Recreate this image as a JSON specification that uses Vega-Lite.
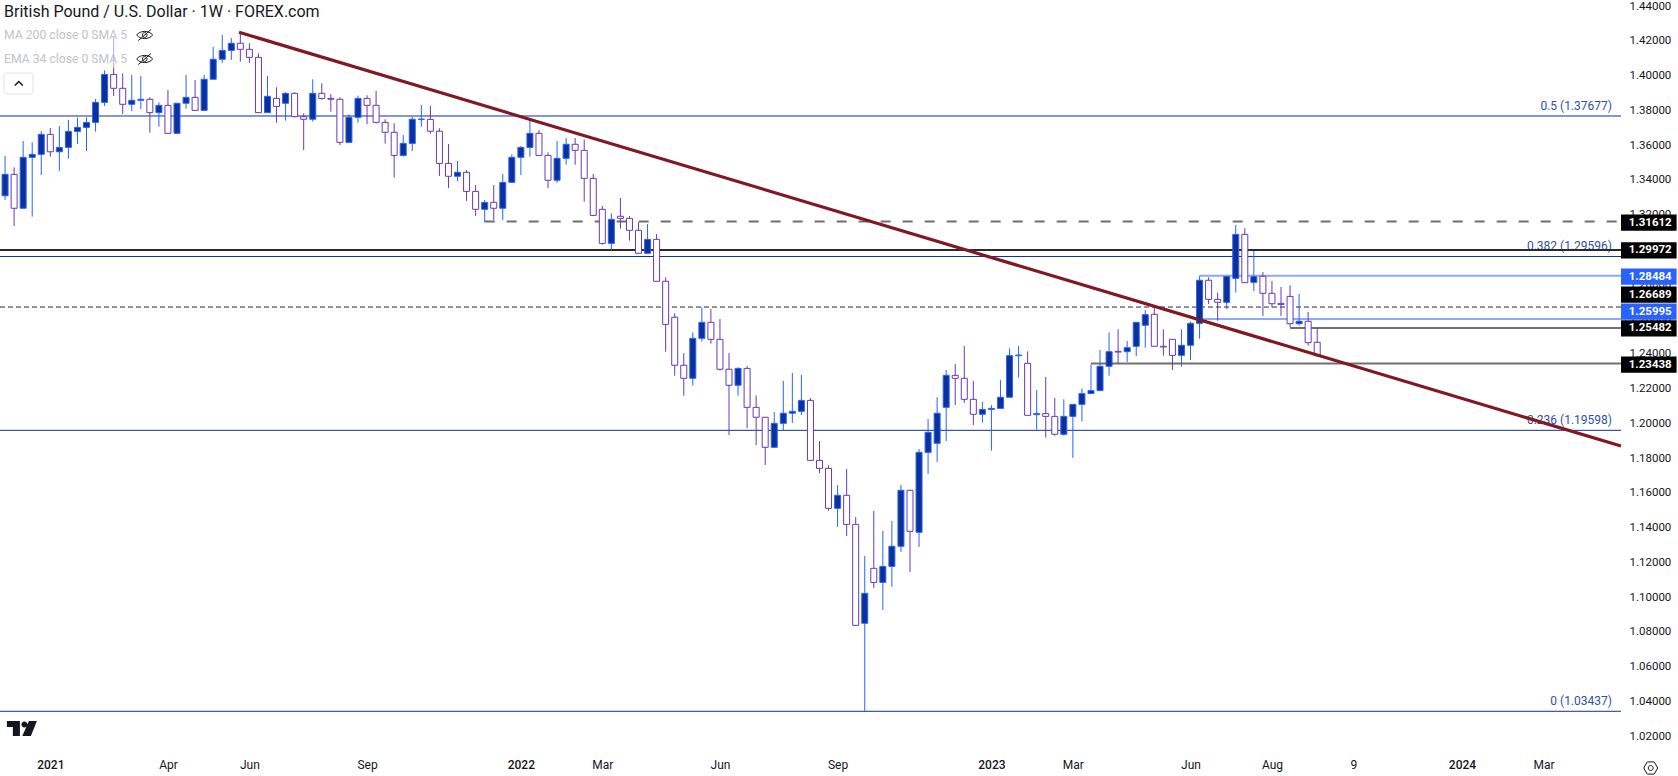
{"$schema":"https://vega.github.io/schema/vega-lite/v6.json","width":1621,"height":742,"autosize":{"type":"none"},"padding":{"left":0,"top":0,"right":57,"bottom":34},"background":"#ffffff","config":{"view":{"stroke":null},"font":"Roboto"},
"datasets":{"candles":[
{"d":"2020-11-30","o":1.3309,"h":1.3538,"l":1.3285,"c":1.3432},{"d":"2020-12-07","o":1.3432,"h":1.3472,"l":1.3135,"c":1.3237},{"d":"2020-12-14","o":1.3237,"h":1.3624,"l":1.3237,"c":1.353},{"d":"2020-12-21","o":1.353,"h":1.3616,"l":1.3189,"c":1.3547},{"d":"2020-12-28","o":1.3547,"h":1.3681,"l":1.3428,"c":1.3662},
{"d":"2021-01-04","o":1.3662,"h":1.3699,"l":1.3534,"c":1.3562},{"d":"2021-01-11","o":1.3562,"h":1.371,"l":1.3451,"c":1.3587},{"d":"2021-01-18","o":1.3587,"h":1.3745,"l":1.3522,"c":1.3679},{"d":"2021-01-25","o":1.3679,"h":1.3758,"l":1.3607,"c":1.3702},{"d":"2021-02-01","o":1.3702,"h":1.376,"l":1.3566,"c":1.3731},{"d":"2021-02-08","o":1.3731,"h":1.3865,"l":1.3678,"c":1.3846},{"d":"2021-02-15","o":1.3846,"h":1.403,"l":1.3825,"c":1.4007},{"d":"2021-02-22","o":1.4007,"h":1.4228,"l":1.3883,"c":1.3927},{"d":"2021-03-01","o":1.3927,"h":1.4013,"l":1.3779,"c":1.3835},{"d":"2021-03-08","o":1.3835,"h":1.4004,"l":1.3796,"c":1.3858},{"d":"2021-03-15","o":1.3858,"h":1.3998,"l":1.3808,"c":1.3864},{"d":"2021-03-22","o":1.3864,"h":1.3875,"l":1.3672,"c":1.3787},{"d":"2021-03-29","o":1.3787,"h":1.3846,"l":1.3706,"c":1.3829},{"d":"2021-04-05","o":1.3829,"h":1.3917,"l":1.3668,"c":1.3668},{"d":"2021-04-12","o":1.3668,"h":1.3841,"l":1.3668,"c":1.3841},{"d":"2021-04-19","o":1.3841,"h":1.4004,"l":1.381,"c":1.3875},{"d":"2021-04-26","o":1.3875,"h":1.3975,"l":1.38,"c":1.38},{"d":"2021-05-03","o":1.38,"h":1.4004,"l":1.38,"c":1.3979},{"d":"2021-05-10","o":1.3979,"h":1.4165,"l":1.3979,"c":1.4094},{"d":"2021-05-17","o":1.4094,"h":1.4234,"l":1.4074,"c":1.4145},{"d":"2021-05-24","o":1.4145,"h":1.4216,"l":1.409,"c":1.4186},{"d":"2021-05-31","o":1.4186,"h":1.4249,"l":1.408,"c":1.4151},{"d":"2021-06-07","o":1.4151,"h":1.4186,"l":1.4074,"c":1.4105},{"d":"2021-06-14","o":1.4105,"h":1.4128,"l":1.3787,"c":1.3787},{"d":"2021-06-21","o":1.3787,"h":1.3998,"l":1.3787,"c":1.3881},{"d":"2021-06-28","o":1.3869,"h":1.3933,"l":1.3729,"c":1.3823},{"d":"2021-07-05","o":1.3841,"h":1.3904,"l":1.3741,"c":1.3898},{"d":"2021-07-12","o":1.3898,"h":1.3904,"l":1.376,"c":1.3764},{"d":"2021-07-19","o":1.3764,"h":1.3783,"l":1.3572,"c":1.3749},{"d":"2021-07-26","o":1.3749,"h":1.3979,"l":1.3735,"c":1.3898},{"d":"2021-08-02","o":1.3898,"h":1.3956,"l":1.3862,"c":1.3869},{"d":"2021-08-09","o":1.3869,"h":1.3894,"l":1.3793,"c":1.3864},{"d":"2021-08-16","o":1.3864,"h":1.3875,"l":1.3601,"c":1.3616},{"d":"2021-08-23","o":1.3616,"h":1.3777,"l":1.3616,"c":1.376},{"d":"2021-08-30","o":1.376,"h":1.3885,"l":1.3729,"c":1.3869},{"d":"2021-09-06","o":1.3869,"h":1.3887,"l":1.3722,"c":1.3829},{"d":"2021-09-13","o":1.3829,"h":1.3912,"l":1.3725,"c":1.3731},{"d":"2021-09-20","o":1.3731,"h":1.3749,"l":1.3609,"c":1.3674},{"d":"2021-09-27","o":1.3674,"h":1.3725,"l":1.3413,"c":1.3541},{"d":"2021-10-04","o":1.3541,"h":1.3658,"l":1.3534,"c":1.361},{"d":"2021-10-11","o":1.361,"h":1.3764,"l":1.3566,"c":1.3749},
{"d":"2021-10-18","o":1.3747,"h":1.3831,"l":1.3706,"c":1.375},{"d":"2021-10-25","o":1.3748,"h":1.3825,"l":1.3666,"c":1.368},{"d":"2021-11-01","o":1.368,"h":1.3697,"l":1.3423,"c":1.3495},{"d":"2021-11-08","o":1.3495,"h":1.3607,"l":1.3353,"c":1.3421},{"d":"2021-11-15","o":1.3421,"h":1.3509,"l":1.3394,"c":1.3444},{"d":"2021-11-22","o":1.3444,"h":1.3457,"l":1.3279,"c":1.3334},{"d":"2021-11-29","o":1.3334,"h":1.3371,"l":1.3192,"c":1.3231},{"d":"2021-12-06","o":1.3231,"h":1.3285,"l":1.3158,"c":1.3271},{"d":"2021-12-13","o":1.3271,"h":1.3371,"l":1.3169,"c":1.3237},{"d":"2021-12-20","o":1.3237,"h":1.3434,"l":1.3169,"c":1.3386},{"d":"2021-12-27","o":1.3386,"h":1.3547,"l":1.3386,"c":1.353},
{"d":"2022-01-03","o":1.353,"h":1.3595,"l":1.3428,"c":1.3587},{"d":"2022-01-10","o":1.3587,"h":1.3748,"l":1.3534,"c":1.3668},{"d":"2022-01-17","o":1.3668,"h":1.3687,"l":1.3541,"c":1.3541},{"d":"2022-01-24","o":1.3541,"h":1.3559,"l":1.3353,"c":1.3398},{"d":"2022-01-31","o":1.3398,"h":1.3624,"l":1.3384,"c":1.3524},{"d":"2022-02-07","o":1.3524,"h":1.3641,"l":1.3488,"c":1.3605},{"d":"2022-02-14","o":1.3605,"h":1.3641,"l":1.3488,"c":1.357},{"d":"2022-02-21","o":1.357,"h":1.3633,"l":1.3275,"c":1.3409},{"d":"2022-02-28","o":1.3409,"h":1.3434,"l":1.3194,"c":1.3196},{"d":"2022-03-07","o":1.3231,"h":1.325,"l":1.3028,"c":1.3035},{"d":"2022-03-14","o":1.3035,"h":1.3208,"l":1.2997,"c":1.3173},{"d":"2022-03-21","o":1.3191,"h":1.3296,"l":1.312,"c":1.3179},{"d":"2022-03-28","o":1.3179,"h":1.3192,"l":1.3051,"c":1.311},{"d":"2022-04-04","o":1.311,"h":1.3158,"l":1.2978,"c":1.2978},{"d":"2022-04-11","o":1.2978,"h":1.3146,"l":1.2978,"c":1.3058},{"d":"2022-04-18","o":1.3058,"h":1.3089,"l":1.2817,"c":1.2817},{"d":"2022-04-25","o":1.2817,"h":1.284,"l":1.2412,"c":1.2569},{"d":"2022-05-02","o":1.261,"h":1.2633,"l":1.2274,"c":1.2334},{"d":"2022-05-09","o":1.2334,"h":1.2404,"l":1.2159,"c":1.2259},{"d":"2022-05-16","o":1.2259,"h":1.2523,"l":1.2217,"c":1.2489},{"d":"2022-05-23","o":1.2489,"h":1.2667,"l":1.247,"c":1.2581},{"d":"2022-05-30","o":1.2581,"h":1.2658,"l":1.2458,"c":1.2483},{"d":"2022-06-06","o":1.2483,"h":1.26,"l":1.2303,"c":1.2311},{"d":"2022-06-13","o":1.2311,"h":1.2404,"l":1.1933,"c":1.2219},{"d":"2022-06-20","o":1.2219,"h":1.2322,"l":1.2159,"c":1.2316},{"d":"2022-06-27","o":1.2316,"h":1.233,"l":1.1973,"c":1.2092},{"d":"2022-07-04","o":1.2092,"h":1.2161,"l":1.1875,"c":1.2035},{"d":"2022-07-11","o":1.2035,"h":1.2035,"l":1.176,"c":1.1862},{"d":"2022-07-18","o":1.1862,"h":1.2065,"l":1.1862,"c":1.2},{"d":"2022-07-25","o":1.2,"h":1.2244,"l":1.1962,"c":1.2058},{"d":"2022-08-01","o":1.2058,"h":1.229,"l":1.2002,"c":1.2069},{"d":"2022-08-08","o":1.2069,"h":1.2278,"l":1.2048,"c":1.2132},{"d":"2022-08-15","o":1.2132,"h":1.2146,"l":1.1787,"c":1.1787},{"d":"2022-08-22","o":1.1787,"h":1.1898,"l":1.1714,"c":1.1741},{"d":"2022-08-29","o":1.1741,"h":1.1758,"l":1.1498,"c":1.1511},{"d":"2022-09-05","o":1.1511,"h":1.1645,"l":1.1404,"c":1.1586},{"d":"2022-09-12","o":1.1586,"h":1.1737,"l":1.1352,"c":1.1419},{"d":"2022-09-19","o":1.1419,"h":1.1461,"l":1.0838,"c":1.0838},{"d":"2022-09-26","o":1.085,"h":1.1237,"l":1.0344,"c":1.1022},{"d":"2022-10-03","o":1.1166,"h":1.1496,"l":1.1053,"c":1.1085},{"d":"2022-10-10","o":1.1085,"h":1.1381,"l":1.0926,"c":1.1177},{"d":"2022-10-17","o":1.1177,"h":1.1438,"l":1.1059,"c":1.1293},{"d":"2022-10-24","o":1.1293,"h":1.1645,"l":1.126,"c":1.1615},{"d":"2022-10-31","o":1.1615,"h":1.1615,"l":1.1145,"c":1.1379},{"d":"2022-11-07","o":1.1373,"h":1.1852,"l":1.1289,"c":1.1833},{"d":"2022-11-14","o":1.1833,"h":1.2025,"l":1.1709,"c":1.1948},{"d":"2022-11-21","o":1.1885,"h":1.2151,"l":1.1778,"c":1.2058},{"d":"2022-11-28","o":1.2092,"h":1.2307,"l":1.1898,"c":1.2276},{"d":"2022-12-05","o":1.2276,"h":1.2341,"l":1.2105,"c":1.2259},{"d":"2022-12-12","o":1.2259,"h":1.2445,"l":1.2117,"c":1.2138},{"d":"2022-12-19","o":1.2138,"h":1.2244,"l":1.199,"c":1.2052},{"d":"2022-12-26","o":1.2052,"h":1.2123,"l":1.2004,"c":1.208},
{"d":"2023-01-02","o":1.208,"h":1.2105,"l":1.1843,"c":1.2086},{"d":"2023-01-09","o":1.2086,"h":1.2249,"l":1.2086,"c":1.215},{"d":"2023-01-16","o":1.215,"h":1.2431,"l":1.215,"c":1.2389},{"d":"2023-01-23","o":1.2389,"h":1.2445,"l":1.2263,"c":1.2393},{"d":"2023-01-30","o":1.2345,"h":1.2414,"l":1.2046,"c":1.2046},{"d":"2023-02-06","o":1.205,"h":1.2192,"l":1.1964,"c":1.2056},{"d":"2023-02-13","o":1.2056,"h":1.2267,"l":1.1918,"c":1.204},{"d":"2023-02-20","o":1.204,"h":1.2146,"l":1.1929,"c":1.1937},{"d":"2023-02-27","o":1.1937,"h":1.2138,"l":1.1929,"c":1.204},{"d":"2023-03-06","o":1.204,"h":1.2109,"l":1.1802,"c":1.2109},{"d":"2023-03-13","o":1.2109,"h":1.2201,"l":1.201,"c":1.2171},{"d":"2023-03-20","o":1.2171,"h":1.2339,"l":1.2171,"c":1.2188},{"d":"2023-03-27","o":1.2188,"h":1.2422,"l":1.2188,"c":1.2328},{"d":"2023-04-03","o":1.2328,"h":1.2523,"l":1.2274,"c":1.2412},{"d":"2023-04-10","o":1.2414,"h":1.2541,"l":1.2345,"c":1.241},{"d":"2023-04-17","o":1.2412,"h":1.2474,"l":1.2353,"c":1.2435},{"d":"2023-04-24","o":1.2443,"h":1.2581,"l":1.2387,"c":1.2581},{"d":"2023-05-01","o":1.2564,"h":1.2652,"l":1.2435,"c":1.2625},{"d":"2023-05-08","o":1.2627,"h":1.2679,"l":1.2443,"c":1.2443},{"d":"2023-05-15","o":1.2443,"h":1.2541,"l":1.2389,"c":1.2439},{"d":"2023-05-22","o":1.2483,"h":1.2483,"l":1.2307,"c":1.2391},{"d":"2023-05-29","o":1.2391,"h":1.2541,"l":1.2326,"c":1.2449},{"d":"2023-06-05","o":1.2449,"h":1.2585,"l":1.2364,"c":1.2575},{"d":"2023-06-12","o":1.2575,"h":1.2847,"l":1.2487,"c":1.2823},{"d":"2023-06-19","o":1.2823,"h":1.284,"l":1.2686,"c":1.2713},{"d":"2023-06-26","o":1.2713,"h":1.2753,"l":1.259,"c":1.2696},{"d":"2023-07-03","o":1.2696,"h":1.2847,"l":1.2658,"c":1.2845},{"d":"2023-07-10","o":1.2834,"h":1.3141,"l":1.2752,"c":1.3087},{"d":"2023-07-17","o":1.3087,"h":1.3122,"l":1.2809,"c":1.2809},{"d":"2023-07-24","o":1.2811,"h":1.2991,"l":1.2761,"c":1.2844},{"d":"2023-07-31","o":1.2846,"h":1.287,"l":1.2617,"c":1.2748},{"d":"2023-08-07","o":1.2748,"h":1.2819,"l":1.2667,"c":1.2688},{"d":"2023-08-14","o":1.269,"h":1.2784,"l":1.2617,"c":1.2683},{"d":"2023-08-21","o":1.273,"h":1.2794,"l":1.2552,"c":1.2573},{"d":"2023-08-28","o":1.2573,"h":1.2744,"l":1.2562,"c":1.2587},{"d":"2023-09-04","o":1.2587,"h":1.264,"l":1.2447,"c":1.2464},{"d":"2023-09-11","o":1.2466,"h":1.2552,"l":1.2382,"c":1.2389}
]},
"encoding":{"x":{"field":"d","type":"temporal","title":null,"scale":{"type":"utc","nice":false,"padding":0,"domain":["2020-11-26T02:00:00Z","2024-05-03T00:00:00Z"]},
"axis":{"orient":"bottom","grid":false,"ticks":false,"domain":false,"labelFont":"Roboto","labelFontSize":12,"labelColor":"#131722","labelPadding":17,"labelOverlap":false,"labelFlush":false,"labelBound":false,"labelFontWeight":{"condition":{"test":"utcmonth(datum.value)==0","value":500},"value":400},
"values":["2021-01-04","2021-04-05","2021-06-07","2021-09-06","2022-01-03","2022-03-07","2022-06-06","2022-09-05","2023-01-02","2023-03-06","2023-06-05","2023-08-07","2023-10-09","2024-01-01","2024-03-04"],
"labelExpr":"utcFormat(datum.value,'%m-%d')=='10-09' ? '9' : (utcmonth(datum.value)==0 ? utcFormat(datum.value,'%Y') : utcFormat(datum.value,'%b'))"}},
"y":{"field":"p","type":"quantitative","title":null,"scale":{"domain":[1.01671,1.44349],"nice":false,"zero":false},
"axis":{"orient":"right","grid":false,"ticks":false,"domain":false,"labelFont":"Roboto","labelFontSize":11.5,"labelColor":"#131722","labelPadding":8,"labelOverlap":false,"labelBound":false,"format":".5f","values":[1.02,1.04,1.06,1.08,1.1,1.12,1.14,1.16,1.18,1.2,1.22,1.24,1.26,1.28,1.3,1.32,1.34,1.36,1.38,1.4,1.42,1.44]}}},
"layer":[
{"data":{"values":[{"d":"2020-11-26T02:00:00Z","d2":"2024-05-03T00:00:00Z","p":1.37677},{"d":"2020-11-26T02:00:00Z","d2":"2024-05-03T00:00:00Z","p":1.29596},{"d":"2020-11-26T02:00:00Z","d2":"2024-05-03T00:00:00Z","p":1.19598},{"d":"2020-11-26T02:00:00Z","d2":"2024-05-03T00:00:00Z","p":1.03437}]},
"mark":{"type":"rule","color":"#0c3299","strokeWidth":1},
"encoding":{"x2":{"field":"d2"}}},
{"data":{"values":[{"d":"2024-04-26","p":1.37677,"t":"0.5 (1.37677)"},{"d":"2024-04-26","p":1.29596,"t":"0.382 (1.29596)"},{"d":"2024-04-26","p":1.19598,"t":"0.236 (1.19598)"},{"d":"2024-04-26","p":1.03437,"t":"0 (1.03437)"}]},
"mark":{"type":"text","align":"right","baseline":"middle","dy":-10,"font":"Roboto","fontSize":12,"color":"#2f50a8"},
"encoding":{"text":{"field":"t"}}},
{"data":{"values":[{"d":"2020-11-26T02:00:00Z","d2":"2024-05-03T00:00:00Z","p":1.29972}]},"mark":{"type":"rule","color":"#2a2a2a","strokeWidth":2},
"encoding":{"x2":{"field":"d2"}}},
{"data":{"values":[{"d":"2021-12-06","d2":"2024-05-01T00:00:00Z","p":1.31612}]},"mark":{"type":"rule","color":"#6f6f6f","strokeWidth":2,"strokeDash":[10,12]},
"encoding":{"x2":{"field":"d2"}}},
{"data":{"values":[{"d":"2020-11-26T02:00:00Z","d2":"2024-05-03T00:00:00Z","p":1.26689}]},"mark":{"type":"rule","color":"#2a2a2a","strokeWidth":1,"strokeDash":[5,3]},
"encoding":{"x2":{"field":"d2"}}},
{"data":{"values":[{"d":"2023-06-12","d2":"2024-05-03T00:00:00Z","p":1.28484},{"d":"2023-06-12","d2":"2024-05-03T00:00:00Z","p":1.25995}]},"mark":{"type":"rule","color":"#8aa9ff","strokeWidth":2},
"encoding":{"x2":{"field":"d2"}}},
{"data":{"values":[{"d":"2023-08-21","d2":"2024-05-03T00:00:00Z","p":1.25482},{"d":"2023-03-20","d2":"2024-05-03T00:00:00Z","p":1.23438}]},"mark":{"type":"rule","color":"#707070","strokeWidth":2},
"encoding":{"x2":{"field":"d2"}}},
{"data":{"name":"candles"},"transform":[{"fold":["h"],"as":["k","p"]}],"mark":{"type":"rule","strokeWidth":1},
"encoding":{"y2":{"field":"l"},"color":{"condition":{"test":"datum.c>=datum.o","value":"#2962ff"},"value":"#673ab7"}}},
{"data":{"name":"candles"},"transform":[{"fold":["o"],"as":["k","p"]}],"mark":{"type":"bar","size":6,"strokeWidth":1},
"encoding":{"y2":{"field":"c"},"fill":{"condition":{"test":"datum.c>=datum.o","value":"#0c3299"},"value":"#ffffff"},"stroke":{"condition":{"test":"datum.c>=datum.o","value":"#2962ff"},"value":"#673ab7"}}},
{"data":{"values":[{"d":"2021-05-30","p":1.42491},{"d":"2024-05-03","p":1.18696}]},"mark":{"type":"line","color":"#801922","strokeWidth":3.2},
"encoding":{}},
{"data":{"values":[
{"d":"2024-05-03","d2":"2024-06-15","p":1.32009,"bot":1.31071,"kind":"black"},
{"d":"2024-05-03","d2":"2024-06-15","p":1.30421,"bot":1.29483,"kind":"black"},
{"d":"2024-05-03","d2":"2024-06-15","p":1.28903,"bot":1.27965,"kind":"blue"},
{"d":"2024-05-03","d2":"2024-06-15","p":1.27868,"bot":1.2693,"kind":"black"},
{"d":"2024-05-03","d2":"2024-06-15","p":1.2689,"bot":1.25952,"kind":"blue"},
{"d":"2024-05-03","d2":"2024-06-15","p":1.25935,"bot":1.24997,"kind":"black"},
{"d":"2024-05-03","d2":"2024-06-15","p":1.23841,"bot":1.22903,"kind":"black"}]},"mark":{"type":"rect"},
"encoding":{"x2":{"field":"d2"},"y2":{"field":"bot"},"color":{"condition":{"test":"datum.kind=='blue'","value":"#2962ff"},"value":"#000000"}}},
{"data":{"values":[
{"d":"2024-05-09","p":1.3154,"t":"1.31612"},
{"d":"2024-05-09","p":1.29952,"t":"1.29972"},
{"d":"2024-05-09","p":1.28434,"t":"1.28484"},
{"d":"2024-05-09","p":1.27399,"t":"1.26689"},
{"d":"2024-05-09","p":1.26421,"t":"1.25995"},
{"d":"2024-05-09","p":1.25466,"t":"1.25482"},
{"d":"2024-05-09","p":1.23372,"t":"1.23438"}]},"mark":{"type":"text","align":"left","baseline":"middle","font":"Roboto","fontSize":11.5,"fontWeight":"bold","color":"#ffffff"},
"encoding":{"text":{"field":"t"}}},
{"data":{"values":[{"d":"2020-11-27","d2":"2021-03-22","p":1.42854,"bot":1.40438}]},"mark":{"type":"rect","color":"#ffffff","opacity":0.55},
"encoding":{"x2":{"field":"d2"},"y2":{"field":"bot"}}},
{"data":{"values":[{"d":"2020-11-29T05:00:00Z","p":1.43659,"t":"British Pound / U.S. Dollar · 1W · FOREX.com"}]},"mark":{"type":"text","align":"left","baseline":"middle","font":"Roboto","fontSize":16,"color":"#131722"},
"encoding":{"text":{"field":"t"}}},
{"data":{"values":[{"d":"2020-11-29T05:00:00Z","p":1.42336,"t":"MA 200 close 0 SMA 5"},{"d":"2020-11-29T05:00:00Z","p":1.40955,"t":"EMA 34 close 0 SMA 5"}]},"mark":{"type":"text","align":"left","baseline":"middle","font":"Roboto","fontSize":12.2,"color":"#c0c3cc"},
"encoding":{"text":{"field":"t"}}},
{"data":{"values":[{"d":"2021-03-18","p":1.42336},{"d":"2021-03-18","p":1.40955}]},"mark":{"type":"point","shape":"M-1 0C-.5 -.6 .5 -.6 1 0C.5 .6 -.5 .6 -1 0Z M-.8 .7L.8 -.7 M.3 0A.3 .3 0 1 1 -.3 0A.3 .3 0 1 1 .3 0","size":256,"filled":false,"color":"#131722","strokeWidth":1,"opacity":1},
"encoding":{}},
{"data":{"values":[{"d":"2020-11-29T05:00:00Z","d2":"2020-12-21T14:00:00Z","p":1.4015,"bot":1.38942}]},"mark":{"type":"rect","fill":"#ffffff","stroke":"#e0e3eb","strokeWidth":1,"cornerRadius":3},
"encoding":{"x2":{"field":"d2"},"y2":{"field":"bot"}}},
{"data":{"values":[{"d":"2020-12-10T15:00:00Z","p":1.39546}]},"mark":{"type":"point","shape":"M-1 .5L0 -.5L1 .5","size":64,"filled":false,"color":"#131722","strokeWidth":1.5,"opacity":1},
"encoding":{}},
{"data":{"values":[{"d":"2020-12-13","p":1.02447}]},"mark":{"type":"point","shape":"M-1 -.5H-.13V.5H-.6V-.1H-1Z M.47 -.5H1L.6 .5H.03Z M.37 -.27A.2 .2 0 1 1 -.03 -.27A.2 .2 0 1 1 .37 -.27Z","size":900,"filled":true,"color":"#131722","opacity":1},
"encoding":{}},
{"data":{"values":[{"d":"2024-05-26","p":1.00175}]},"mark":{"type":"point","shape":"M-.5 -.87H.5L1 0L.5 .87H-.5L-1 0Z M.35 0A.35 .35 0 1 1 -.35 0A.35 .35 0 1 1 .35 0","size":196,"filled":false,"color":"#131722","strokeWidth":1,"opacity":1},
"encoding":{}}
]}
